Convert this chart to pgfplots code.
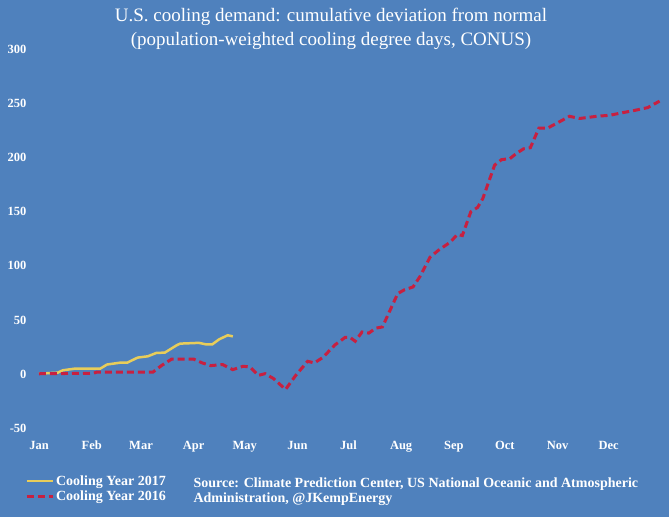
\documentclass[border=0pt]{standalone}
\usepackage{pgfplots}
\pgfplotsset{compat=1.18}
\usepackage{fontspec}
\setmainfont{Liberation Serif}
\definecolor{bgblue}{RGB}{79,129,189}
\definecolor{ylw}{RGB}{232,205,90}
\definecolor{rd}{RGB}{200,32,64}
\begin{document}
\begin{tikzpicture}
\fill[bgblue] (0,0) rectangle (669bp,517bp);
\begin{axis}[
  at={(30bp,88.5bp)}, anchor=south west,
  scale only axis, width=635bp, height=379.4bp,
  xmin=-5.29, xmax=368.2, ymin=-50, ymax=300,
  axis line style={draw=none},
  major tick length=0pt,
  xtick={0,31,60,91,121,152,182,213,244,274,305,335},
  xticklabels={Jan,Feb,Mar,Apr,May,Jun,Jul,Aug,Sep,Oct,Nov,Dec},
  ytick={-50,0,50,100,150,200,250,300},
  /pgf/number format/assume math mode=true,
  tick label style={font=\fontsize{12.5bp}{14bp}\selectfont\bfseries, text=white},
  xticklabel style={yshift=-9bp},
  yticklabel style={xshift=0bp},
  clip=false,
  legend style={at={(-0.008,-0.118)}, anchor=north west, draw=none, fill=none,
    font=\fontsize{14bp}{15bp}\selectfont\bfseries, text=white,
    inner sep=0pt, row sep=0bp,
    /tikz/every even column/.style={column sep=0pt}},
  legend cell align=left,
  legend image code/.code={\draw[#1] (0bp,0bp) -- (26bp,0bp);},
]
\addplot[ylw, line width=2.5bp] coordinates {
(0,0.6) (11,1.5) (14,3.7) (21,5.2) (36,5.2) (40,9) (48,10.8) (52,10.8)
(58,15.4) (64,16.6) (69,19.7) (74,20) (81,26.8) (83,28.3) (94,29)
(98,27.7) (102,27.7) (106,32.3) (111,36) (114,35)
};
\addlegendentry{Cooling Year 2017}
\addplot[rd, line width=3bp, dash pattern=on 7bp off 4bp] coordinates {
(0,0.5) (32,1) (34,2) (67,2) (72,8) (78,14) (91,14) (96,10.5) (101,8)
(108,9) (114,4.3) (120,7.4) (124,6.8) (129,-1) (133,0.6) (138,-4)
(145,-14) (151,-1) (158,12) (162,10.5) (167,15.6) (174,27) (180,34)
(183,34) (186,30.5) (190,39) (194,38) (198,42.5) (202,43.7) (211,74.5)
(215,78) (220,80.6) (224,90) (230,108) (235,114.5) (242,122) (246,129)
(249,128) (254,150) (258,154) (261,162) (268,193) (272,198) (277,199)
(281,204) (285,208) (289,209) (294,227) (299,227) (305,232) (312,238)
(318,236) (328,238) (336,239) (342,241) (349,243) (358,246) (365,252)
};
\addlegendentry{Cooling Year 2016}
\end{axis}
\node[text=white, align=center, font=\fontsize{19bp}{24bp}\selectfont] at (331bp,488bp)
  {U.S. cooling demand: cumulative deviation from normal\\(population-weighted cooling degree days, CONUS)};
\node[text=white, align=left, anchor=west, font=\fontsize{14bp}{15bp}\selectfont\bfseries] at (190bp,25.5bp)
  {Source: Climate Prediction Center, US National Oceanic and Atmospheric\\Administration, @JKempEnergy};
\end{tikzpicture}
\end{document}
